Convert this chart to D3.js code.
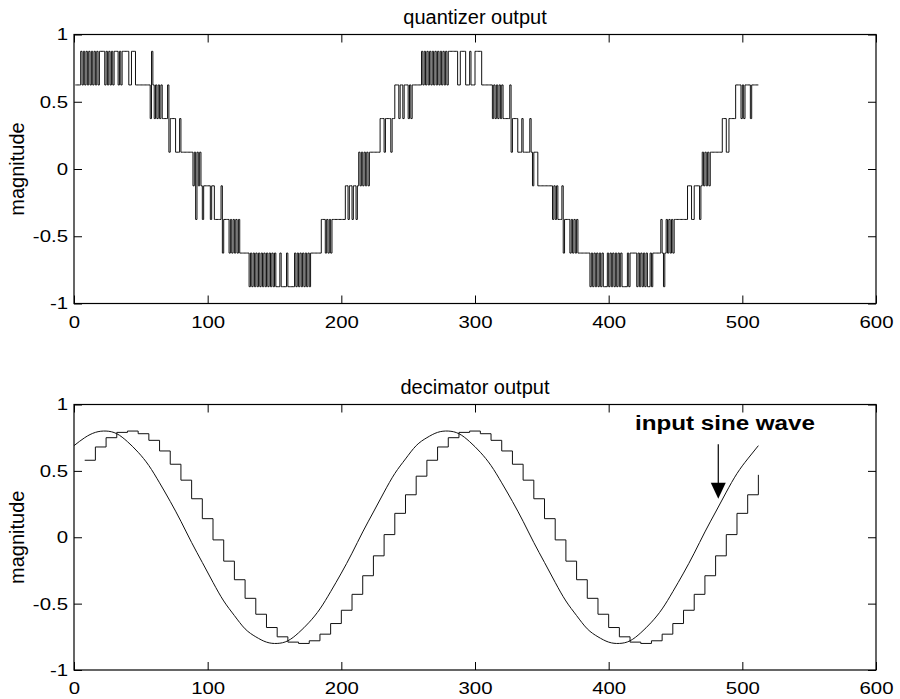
<!DOCTYPE html>
<html>
<head>
<meta charset="utf-8">
<script src="https://cdn.jsdelivr.net/npm/d3@7"></script>
<style>
  body { margin: 0; background: #fff; }
  svg { font-family: "Liberation Sans", Arial, Helvetica, sans-serif; }
  .frame { fill: none; stroke: #000; stroke-width: 1.2; }
  .tick line { stroke: #000; stroke-width: 1; }
  .trace { fill: none; stroke: #111; stroke-width: 1; }
</style>
</head>
<body>
<div id="chart"></div>
<script>
// quantizer levels, indexed by the digits below
const quantLevels = [-0.875, -0.625, -0.375, -0.125, 0.125, 0.375, 0.625, 0.875];

// quantizer output, samples 1..512, one digit per sample (spaces only split runs)
const quantCodes = [
  "6666 76767676767676 7777 6767676 777 6767 7777 66 777 66666666666",   // 1-56
  "5 7 6565656 5555 6 4 5555 444 5 444444444",                           // 57-88
  "34243432 33333 2 33 22222 3 1 2222 121212121 111111",                 // 89-130
  "0 1010101010101010101 000 1 0000 10 00001 0 10101010101",             // 131-177
  "1111111 22212121 2222222222 3323323323 43434343 44444444",            // 178-228
  "55545555455 6665665666565 6666666",                                   // 229-259
  "767676767676767676767 777777 66 7777 6667666 7777 76",                // 260-305
  "6666666 565656565 5555 6 45 555 444 5 44444 5 4 3 444",               // 306-346
  "33333333333 23232223 1 2222 1212121 11111111",                        // 347-385
  "0101010101 000 101010101010 000 101 1111 01010101 00 1 0 111111 2 1 0", // 386-441
  "1212121 2222222222 33322333323 4343434 44444444 5554455555 6666565666656 66666" // 442-512
];

// input sine wave, read every 8 samples (n = 0, 8, ..., 512)
const sineStep = 8;
const sineVals = [
  0.69, 0.75, 0.79, 0.80, 0.78, 0.72, 0.64, 0.54, 0.41, 0.27, 0.12, -0.04, -0.19, -0.34, -0.48, -0.59,
  -0.69, -0.75, -0.79, -0.80, -0.78, -0.72, -0.64, -0.54, -0.41, -0.27, -0.12, 0.04, 0.19, 0.34, 0.48, 0.59,
  0.69, 0.75, 0.79, 0.80, 0.78, 0.72, 0.64, 0.54, 0.41, 0.27, 0.12, -0.04, -0.19, -0.34, -0.48, -0.59,
  -0.69, -0.75, -0.79, -0.80, -0.78, -0.72, -0.64, -0.54, -0.41, -0.27, -0.12, 0.04, 0.19, 0.34, 0.48, 0.59,
  0.69
];

// decimator output, one value per 8 samples (n = 8, 16, ..., 512)
const decimStep = 8;
const decimVals = [
  0.58, 0.68, 0.75, 0.79, 0.80, 0.78, 0.73, 0.65, 0.55, 0.43, 0.29, 0.14, -0.02, -0.18, -0.32, -0.46,
  -0.58, -0.68, -0.75, -0.79, -0.80, -0.78, -0.73, -0.65, -0.55, -0.43, -0.29, -0.14, 0.02, 0.18, 0.32, 0.46,
  0.58, 0.68, 0.75, 0.79, 0.80, 0.78, 0.73, 0.65, 0.55, 0.43, 0.29, 0.14, -0.02, -0.18, -0.32, -0.46,
  -0.58, -0.68, -0.75, -0.79, -0.80, -0.78, -0.73, -0.65, -0.55, -0.43, -0.29, -0.14, 0.02, 0.18, 0.32, 0.47
];

const xTicks = [0, 100, 200, 300, 400, 500, 600];
const yTicks = [-1, -0.5, 0, 0.5, 1];

const svg = d3.select("#chart").append("svg")
  .attr("width", 900)
  .attr("height", 699);

const plotLeft = 74, plotRight = 876;
const panels = [
  { title: "quantizer output", top: 34.5, bottom: 303.5 },
  { title: "decimator output", top: 404.5, bottom: 670 }
];

function drawPanel(p) {
  const x = d3.scaleLinear().domain([0, 600]).range([plotLeft, plotRight]);
  const y = d3.scaleLinear().domain([-1, 1]).range([p.bottom, p.top]);
  const g = svg.append("g");

  const fmt = d => String(d);

  const bottomAxis = g.append("g")
    .attr("transform", `translate(0,${p.bottom})`)
    .call(d3.axisBottom(x).tickValues(xTicks).tickSizeInner(-8).tickSizeOuter(0).tickPadding(12).tickFormat(fmt));
  g.append("g")
    .attr("transform", `translate(0,${p.top})`)
    .call(d3.axisTop(x).tickValues(xTicks).tickSizeInner(-8).tickSizeOuter(0).tickFormat(""));
  const leftAxis = g.append("g")
    .attr("transform", `translate(${plotLeft},0)`)
    .call(d3.axisLeft(y).tickValues(yTicks).tickSizeInner(-8).tickSizeOuter(0).tickPadding(5).tickFormat(fmt));
  g.append("g")
    .attr("transform", `translate(${plotRight},0)`)
    .call(d3.axisRight(y).tickValues(yTicks).tickSizeInner(-8).tickSizeOuter(0).tickFormat(""));

  g.selectAll(".domain").remove();
  [bottomAxis, leftAxis].forEach(a => {
    a.attr("font-size", null).attr("font-family", null);
    a.selectAll("text")
      .style("font-size", "17px")
      .attr("fill", "#000")
      .attr("transform", "scale(1.2,1)");
  });

  g.append("rect")
    .attr("class", "frame")
    .attr("x", plotLeft)
    .attr("y", p.top)
    .attr("width", plotRight - plotLeft)
    .attr("height", p.bottom - p.top);

  g.append("text")
    .attr("x", (plotLeft + plotRight) / 2)
    .attr("y", p.top - 10.5)
    .attr("text-anchor", "middle")
    .style("font-size", "20px")
    .text(p.title);

  g.append("text")
    .attr("transform", `translate(24,${(p.top + p.bottom) / 2}) rotate(-90)`)
    .attr("text-anchor", "middle")
    .style("font-size", "20px")
    .text("magnitude");

  return { g, x, y };
}

// top: quantizer output
const quantPanel = drawPanel(panels[0]);
const quantData = quantCodes.join("").replace(/\s+/g, "").split("")
  .map((c, i) => [i + 1, quantLevels[+c]]);

quantPanel.g.append("path")
  .datum(quantData)
  .attr("class", "trace")
  .attr("stroke", "#2a2a2a")
  .attr("stroke-width", 0.75)
  .attr("d", d3.line()
    .x(d => quantPanel.x(d[0]))
    .y(d => quantPanel.y(d[1]))
    .curve(d3.curveStepAfter));

// bottom: decimator output and input sine
const decimPanel = drawPanel(panels[1]);
const sineData = sineVals.map((v, j) => [j * sineStep, v]);
const decimData = decimVals.map((v, k) => [(k + 1) * decimStep, v]);

decimPanel.g.append("path")
  .datum(sineData)
  .attr("class", "trace")
  .attr("d", d3.line()
    .x(d => decimPanel.x(d[0]))
    .y(d => decimPanel.y(d[1]))
    .curve(d3.curveNatural));

decimPanel.g.append("path")
  .datum(decimData)
  .attr("class", "trace")
  .attr("d", d3.line()
    .x(d => decimPanel.x(d[0]))
    .y(d => decimPanel.y(d[1]))
    .curve(d3.curveStepAfter));

// annotation pointing at the sine
const arrowX = 482, arrowFrom = 0.70, arrowTip = 0.29;
const tipX = decimPanel.x(arrowX), tipY = decimPanel.y(arrowTip);

decimPanel.g.append("line")
  .attr("x1", tipX).attr("x2", tipX)
  .attr("y1", decimPanel.y(arrowFrom)).attr("y2", tipY - 10)
  .attr("stroke", "#000")
  .attr("stroke-width", 1.2);

decimPanel.g.append("path")
  .attr("d", `M${tipX},${tipY} L${tipX - 7.5},${tipY - 16} L${tipX + 7.5},${tipY - 16} Z`)
  .attr("fill", "#000");

decimPanel.g.append("text")
  .attr("x", decimPanel.x(487))
  .attr("y", decimPanel.y(0.807))
  .attr("text-anchor", "middle")
  .attr("textLength", 180)
  .attr("lengthAdjust", "spacingAndGlyphs")
  .style("font-size", "20px")
  .style("font-weight", "bold")
  .text("input sine wave");
</script>
</body>
</html>
